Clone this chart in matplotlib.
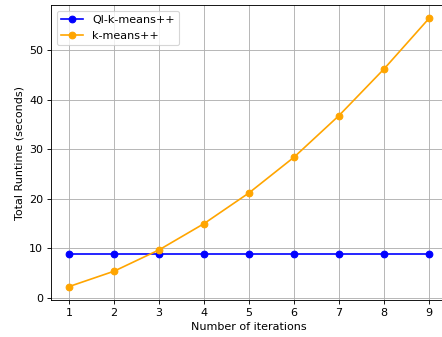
import matplotlib
matplotlib.use('Agg')
import matplotlib.pyplot as plt

iterations = [1, 2, 3, 4, 5, 6, 7, 8, 9]
ql_kmeans = [8.8, 8.8, 8.8, 8.8, 8.8, 8.8, 8.8, 8.8, 8.8]
kmeans = [2.3, 5.4, 9.7, 15.0, 21.2, 28.4, 36.8, 46.2, 56.4]

dpi = 80
fig = plt.figure(figsize=(442 / dpi, 337 / dpi), dpi=dpi)
# axes runs a little past the right edge, as in the reference crop
ax = fig.add_axes([51 / 442, 37 / 337, (447 - 51) / 442, (300 - 5) / 337])

ax.plot(iterations, ql_kmeans, marker='o', color='blue', label='Ql-k-means++')
ax.plot(iterations, kmeans, marker='o', color='orange', label='k-means++')

ax.set_xticks(iterations)
ax.set_xlabel('Number of iterations')
ax.set_ylabel('Total Runtime (seconds)')
ax.grid(True)
ax.legend(loc='upper left')

fig.savefig('out.png', dpi=dpi)
